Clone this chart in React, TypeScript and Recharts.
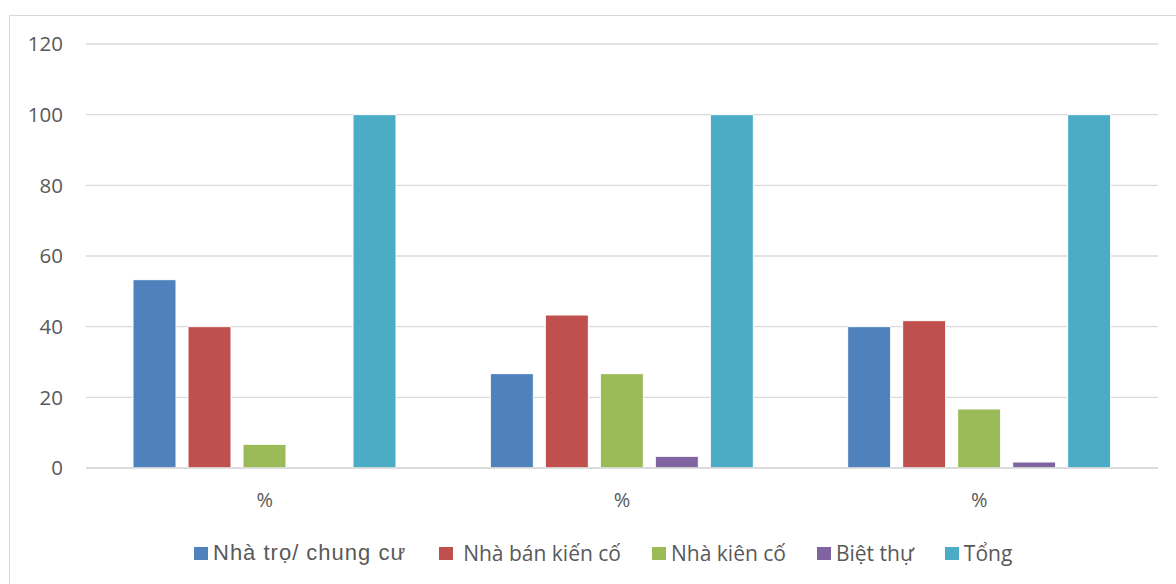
import React from "react";
import { BarChart, Bar, XAxis, YAxis, CartesianGrid, Legend } from "recharts";

const categories = ["%", "%", "%"];
const nhaTro = [53.3, 26.7, 40];
const nhaBan = [40, 43.3, 41.7];
const nhaKien = [6.7, 26.7, 16.7];
const bietThu = [0, 3.3, 1.7];
const tong = [100, 100, 100];
const yTicks = [0, 20, 40, 60, 80, 100, 120];

const seriesNames = ["Nhà trọ/ chung cư", "Nhà bán kiến cố", "Nhà kiên cố", "Biệt thự", "Tổng"];
const seriesColors = ["#4F81BD", "#C0504D", "#9BBB59", "#8064A2", "#4BACC6"];
const seriesKeys = ["s0", "s1", "s2", "s3", "s4"];
const seriesValues = [nhaTro, nhaBan, nhaKien, bietThu, tong];

const data = categories.map((c, i) => {
  const row: any = { name: c };
  seriesKeys.forEach((k, j) => {
    row[k] = seriesValues[j][i];
  });
  return row;
});

const renderLegend = () => (
  <div style={{ display: "flex", alignItems: "center", height: 28, paddingLeft: 194 }}>
    {seriesNames.map((n, i) => (
      <div key={n} style={{ display: "flex", alignItems: "center", marginRight: i === 0 ? 33 : 31 }}>
        <span style={{ display: "inline-block", width: 14, height: 13, background: seriesColors[i], marginRight: i === 1 ? 10 : 5 }} />
        <span
          style={
            i === 0
              ? { fontFamily: "'Liberation Sans', Arial, sans-serif", fontSize: 22, letterSpacing: 1, color: "#595959", lineHeight: "28px" }
              : { fontFamily: "'Open Sans', sans-serif", fontSize: 21, color: "#595959", lineHeight: "28px" }
          }
        >
          {n}
        </span>
      </div>
    ))}
  </div>
);

export default function App() {
  return (
    <div style={{ position: "absolute", left: 0, top: 0, width: 1176, height: 584, overflow: "hidden", background: "#fff" }}>
      <div
        style={{
          position: "absolute",
          left: 9,
          top: 15,
          width: 1200,
          height: 620,
          border: "1px solid #d9d9d9",
          boxSizing: "border-box",
        }}
      />
      <div style={{ position: "absolute", left: 0, top: 0 }}>
        <BarChart
          width={1176}
          height={584}
          data={data}
          margin={{ top: 44, right: 18, left: 10, bottom: 76 }}
          barCategoryGap={47}
          barGap={12}
        >
          <CartesianGrid vertical={false} stroke="#d9d9d9" strokeWidth={1.3} />
          <XAxis
            dataKey="name"
            height={40}
            tickLine={false}
            axisLine={{ stroke: "#d9d9d9", strokeWidth: 1.3 }}
            tickMargin={19}
            tick={{ fill: "#595959", fontSize: 20, fontFamily: "'Open Sans', sans-serif" }}
          />
          <YAxis
            width={76}
            domain={[0, 120]}
            ticks={yTicks}
            tickLine={false}
            axisLine={false}
            tickMargin={17}
            tick={{ fill: "#595959", fontSize: 20.5, fontFamily: "'Open Sans', sans-serif" }}
          />
          <Legend
            verticalAlign="middle"
            content={renderLegend}
            wrapperStyle={{ top: 539, left: 0, width: 1176, height: 28 }}
          />
          {seriesKeys.map((k, j) => (
            <Bar
              key={k}
              dataKey={k}
              name={seriesNames[j]}
              fill={seriesColors[j]}
              stroke="#ffffff"
              strokeWidth={1}
              isAnimationActive={false}
            />
          ))}
        </BarChart>
      </div>
    </div>
  );
}
